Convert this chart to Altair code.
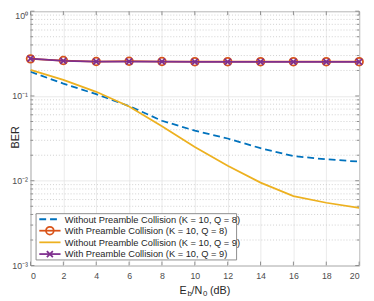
import altair as alt
import pandas as pd

# ---------------- data ----------------
ebn0 = [0, 2, 4, 6, 8, 10, 12, 14, 16, 18, 20]
ber_wo_q8 = [0.193, 0.140, 0.105, 0.076, 0.051, 0.039, 0.0315, 0.0242, 0.0195, 0.0179, 0.0168]
ber_w_q8 = [0.274, 0.262, 0.255, 0.257, 0.255, 0.254, 0.254, 0.254, 0.254, 0.254, 0.254]
ber_wo_q9 = [0.203, 0.155, 0.112, 0.075, 0.044, 0.025, 0.015, 0.0095, 0.0066, 0.0055, 0.0048]
ber_w_q9 = [0.276, 0.260, 0.254, 0.255, 0.254, 0.253, 0.253, 0.253, 0.253, 0.253, 0.253]

series_names = [
    "Without Preamble Collision (K = 10, Q = 8)",
    "With Preamble Collision (K = 10, Q = 8)",
    "Without Preamble Collision (K = 10, Q = 9)",
    "With Preamble Collision (K = 10, Q = 9)",
]
series_values = [ber_wo_q8, ber_w_q8, ber_wo_q9, ber_w_q9]
colors = ["#0072BD", "#D95319", "#EDB120", "#7E2F8E"]

x_ticks = [0, 2, 4, 6, 8, 10, 12, 14, 16, 18, 20]
y_major = [0.001, 0.01, 0.1, 1]
y_major_labels = ["10⁻³", "10⁻²", "10⁻¹", "10⁰"]
y_minor = [0.002, 0.003, 0.004, 0.005, 0.006, 0.007, 0.008, 0.009,
           0.02, 0.03, 0.04, 0.05, 0.06, 0.07, 0.08, 0.09,
           0.2, 0.3, 0.4, 0.5, 0.6, 0.7, 0.8, 0.9]

# ---------------- layout ----------------
W, H = 336, 260
FONT = "Liberation Sans"
AXC = "#8c8c8c"

rows = []
for name, vals in zip(series_names, series_values):
    for x, v in zip(ebn0, vals):
        rows.append({"x": x, "ber": v, "series": name})
df = pd.DataFrame(rows)

xscale = alt.Scale(domain=[0, 20], nice=False, zero=False)
yscale = alt.Scale(type="log", domain=[0.001, 1], nice=False)

label_expr = (
    f"datum.value < 0.005 ? '{y_major_labels[0]}' : "
    f"datum.value < 0.05 ? '{y_major_labels[1]}' : "
    f"datum.value < 0.5 ? '{y_major_labels[2]}' : '{y_major_labels[3]}'"
)
xaxis = alt.Axis(values=x_ticks, title=None, grid=True, domain=False, ticks=False,
                 labelPadding=6, labelFontSize=9)
yaxis = alt.Axis(values=y_major, title=None, grid=True, domain=False, ticks=False,
                 labelPadding=3, labelFontSize=9, labelExpr=label_expr,
                 labelBaseline={"condition": {"test": "datum.value > 0.5", "value": "top"},
                                "value": "middle"})


def X(field):
    return alt.X(field, type="quantitative", scale=xscale, axis=xaxis)


def Y(field):
    return alt.Y(field, type="quantitative", scale=yscale, axis=yaxis)


one = pd.DataFrame({"d": [0]})
layers = []

# minor dotted grid
minor_df = pd.DataFrame({"v": y_minor})
layers.append(alt.Chart(minor_df).mark_rule(color="#c4c4c4", strokeDash=[1, 2], strokeWidth=0.8)
              .encode(y=Y("v")))

# inner ticks
xt_df = pd.DataFrame({"t": x_ticks})
layers.append(alt.Chart(xt_df).mark_rule(color=AXC).encode(x=X("t"), y=alt.value(H), y2=alt.value(H - 4)))
layers.append(alt.Chart(xt_df).mark_rule(color=AXC).encode(x=X("t"), y=alt.value(0), y2=alt.value(4)))
ymaj_df = pd.DataFrame({"t": y_major})
ymin_df = pd.DataFrame({"t": y_minor})
layers.append(alt.Chart(ymaj_df).mark_rule(color=AXC).encode(y=Y("t"), x=alt.value(0), x2=alt.value(4)))
layers.append(alt.Chart(ymaj_df).mark_rule(color=AXC).encode(y=Y("t"), x=alt.value(W), x2=alt.value(W - 4)))
layers.append(alt.Chart(ymin_df).mark_rule(color=AXC).encode(y=Y("t"), x=alt.value(0), x2=alt.value(2.5)))
layers.append(alt.Chart(ymin_df).mark_rule(color=AXC).encode(y=Y("t"), x=alt.value(W), x2=alt.value(W - 2.5)))

# series
dashes = [[7, 4], None, None, None]
markers = [None, "circle", None, "M-1,-1L1,1M-1,1L1,-1"]
msizes = [0, 62, 0, 38]
for name, col, dash, mk, ms in zip(series_names, colors, dashes, markers, msizes):
    sub = df[df["series"] == name]
    lkw = dict(color=col, strokeWidth=1.8, clip=True)
    if dash:
        lkw["strokeDash"] = dash
    layers.append(alt.Chart(sub).mark_line(**lkw).encode(x=X("x"), y=Y("ber")))
    if mk:
        layers.append(alt.Chart(sub).mark_point(shape=mk, filled=False, size=ms, color=col,
                                                strokeWidth=1.8, opacity=1)
                      .encode(x=X("x"), y=Y("ber")))

# legend (drawn manually, MATLAB style)
LX0, LX1, LY0, LY1 = 5.7, 210.7, 207, 254.3
entry_y = [212.7, 224.4, 236.3, 248.3]
layers.append(alt.Chart(one).mark_rect(fill="white", stroke=AXC, strokeWidth=1)
              .encode(x=alt.value(LX0), x2=alt.value(LX1), y=alt.value(LY0), y2=alt.value(LY1)))
for name, col, dash, mk, ms, ey in zip(series_names, colors, dashes, markers, msizes, entry_y):
    rkw = dict(color=col, strokeWidth=1.8)
    if dash:
        rkw["strokeDash"] = dash
    layers.append(alt.Chart(one).mark_rule(**rkw)
                  .encode(x=alt.value(9), x2=alt.value(30.7), y=alt.value(ey)))
    if mk:
        layers.append(alt.Chart(one).mark_point(shape=mk, filled=False, size=ms, color=col,
                                                strokeWidth=1.8, opacity=1)
                      .encode(x=alt.value(19.8), y=alt.value(ey)))
    layers.append(alt.Chart(one).mark_text(align="left", baseline="middle", font=FONT,
                                           fontSize=9.5, color="#262626")
                  .encode(x=alt.value(35), y=alt.value(ey + 0.5), text=alt.value(name)))

# axis titles
layers.append(alt.Chart(one).mark_text(angle=270, align="center", baseline="middle", font=FONT,
                                       fontSize=11, color="#262626")
              .encode(x=alt.value(-15), y=alt.value(129), text=alt.value("BER")))
title_parts = [("E", 152.3, 288.7, 11), ("b", 160.4, 291.3, 8), ("/N", 164.5, 288.7, 11),
               ("0", 176.3, 291.3, 8), ("(dB)", 183.5, 288.7, 11)]
for txt, tx, ty, fs in title_parts:
    layers.append(alt.Chart(one).mark_text(align="left", baseline="alphabetic", font=FONT,
                                           fontSize=fs, color="#262626")
                  .encode(x=alt.value(tx), y=alt.value(ty), text=alt.value(txt)))

chart = (
    alt.layer(*layers)
    .properties(width=W, height=H,
                autosize=alt.AutoSizeParams(type="none"),
                padding={"left": 23, "top": 0, "right": 7, "bottom": 33})
    .configure_view(stroke=AXC, strokeWidth=1)
    .configure_axis(labelFont=FONT, labelColor="#4d4d4d", gridColor="#e4e4e4", gridWidth=0.8)
)

chart.save("out.html", embed_options={"renderer": "svg", "actions": False})
